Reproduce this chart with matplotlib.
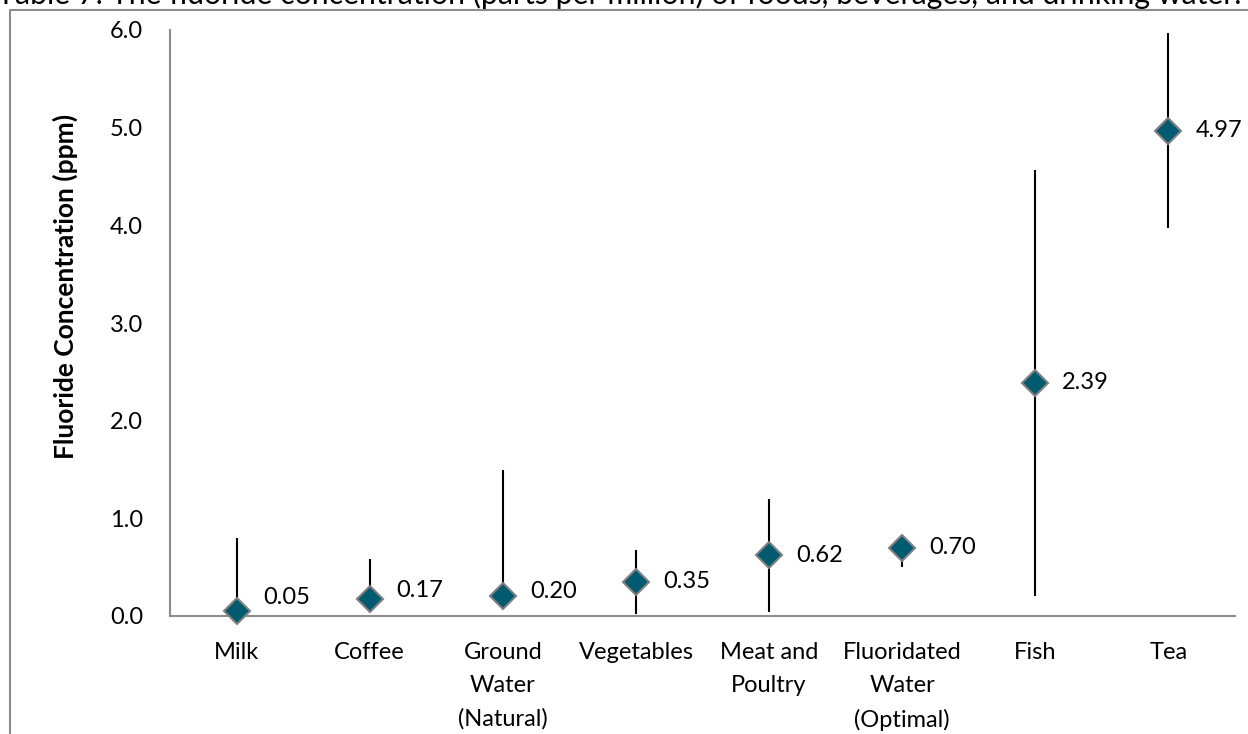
import matplotlib.pyplot as plt
from matplotlib.lines import Line2D

# fluoride data (ppm)
foods = ['Milk', 'Coffee', 'Ground\nWater\n(Natural)', 'Vegetables', 'Meat and\nPoultry',
         'Fluoridated\nWater\n(Optimal)', 'Fish', 'Tea']
means = [0.05, 0.17, 0.20, 0.35, 0.62, 0.70, 2.39, 4.97]
lows = [0.0, 0.17, 0.20, 0.02, 0.04, 0.50, 0.20, 3.97]
highs = [0.80, 0.58, 1.50, 0.68, 1.20, 0.70, 4.57, 5.97]
yticks = [0.0, 1.0, 2.0, 3.0, 4.0, 5.0, 6.0]

W, H = 1248, 734
plt.rcParams['font.family'] = ['Lato', 'DejaVu Sans']
FS = 17

fig = plt.figure(figsize=(W / 100, H / 100), dpi=100)
ax = fig.add_axes([170 / W, (H - 616) / H, (1235 - 170) / W, (616 - 30) / H])

x = list(range(len(foods)))
ax.vlines(x, lows, highs, color='black', lw=1.5, zorder=2)
ax.plot(x, means, linestyle='none', marker='D', ms=13.5, mfc='#005A70',
        mec='#7F7F7F', mew=1.5, zorder=3, clip_on=False)

# small upward nudges for labels near the axis (pixels)
nudge = [14, 9, 5, 0, 0, 0, 0, 0]
for xi, v, n in zip(x, means, nudge):
    ax.annotate(f'{v:.2f}', (xi, v), xytext=(27, n), textcoords='offset pixels',
                ha='left', va='center', fontsize=FS, color='black')

ax.set_xlim(-0.5, len(foods) - 0.5)
ax.set_ylim(0, 6)
ax.set_yticks(yticks)
ax.set_yticklabels([f'{t:.1f}' for t in yticks])
ax.set_xticks(x)
ax.set_xticklabels(foods, linespacing=1.7)
ax.tick_params(axis='both', length=0, labelsize=FS)
ax.tick_params(axis='y', pad=19.5)
ax.tick_params(axis='x', pad=19)

for s in ['top', 'right']:
    ax.spines[s].set_visible(False)
for s in ['left', 'bottom']:
    ax.spines[s].set_color('#8C8C8C')
    ax.spines[s].set_linewidth(1.5)

fig.text(65 / W, (H - 286) / H, 'Fluoride Concentration (ppm)', rotation=90,
         ha='center', va='center', fontsize=19, fontweight='bold')

fig.text(-3 / W, (H - 4) / H,
         'Table 7: The fluoride concentration (parts per million) of foods, beverages, and drinking water.',
         ha='left', va='baseline', fontsize=21.8)

# outer frame (partly outside the image)
fig.add_artist(Line2D([10 / W, 10 / W, 1.0], [0, (H - 10) / H, (H - 10) / H],
                      transform=fig.transFigure, color='#8C8C8C', lw=1.5))

fig.savefig('out.png', dpi=100)
